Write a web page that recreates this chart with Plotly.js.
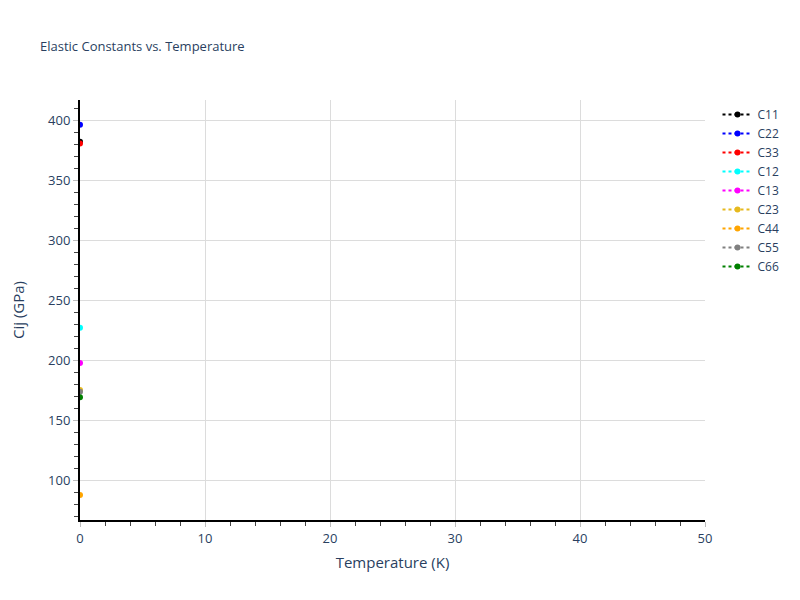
<!DOCTYPE html>
<html>
<head>
<meta charset="utf-8">
<script src="https://cdn.plot.ly/plotly-3.0.1.min.js"></script>
<style>html,body{margin:0;padding:0;background:#fff}</style>
</head>
<body>
<div id="chart" style="width:800px;height:600px"></div>
<script>
const temperature = [0];
const names = ["C11","C22","C33","C12","C13","C23","C44","C55","C66"];
const C11 = [382];
const C22 = [396];
const C33 = [380.5];
const C12 = [227];
const C13 = [197.5];
const C23 = [175];
const C44 = [87.5];
const C55 = [173.5];
const C66 = [169];
const seriesValues = [C11,C22,C33,C12,C13,C23,C44,C55,C66];
const colors = ["black","blue","red","cyan","magenta","#e6b91e","orange","gray","green"];

const traces = names.map((n,i)=>({
  x: temperature, y: seriesValues[i], name: n, type: "scatter",
  mode: "lines+markers",
  line: {color: colors[i], dash: "dot", width: 2},
  marker: {color: colors[i], size: 6}
}));

const layout = {
  width: 800, height: 600,
  paper_bgcolor: "white", plot_bgcolor: "white",
  font: {family: "Open Sans, sans-serif", color: "#2a3f5f", size: 12},
  title: {text: "Elastic Constants vs. Temperature", x: 0.05, xanchor: "left", y: 0.93, font: {size: 13}},
  margin: {l: 80, r: 95, t: 100, b: 80},
  xaxis: {
    title: {text: "Temperature (K)", font: {size: 15}, standoff: 12},
    automargin: true,
    range: [0, 50], dtick: 10,
    tickfont: {size: 13},
    showline: true, linecolor: "black", linewidth: 2,
    gridcolor: "#dcdcdc", zeroline: false,
    ticks: "outside", tickcolor: "#bbb", ticklen: 5,
    minor: {dtick: 2, ticks: "outside", ticklen: 4, tickcolor: "#444", showgrid: false}
  },
  yaxis: {
    title: {text: "Cij (GPa)", font: {size: 15}, standoff: 20},
    automargin: true,
    range: [66.7, 416.7], dtick: 50,
    tickfont: {size: 13},
    showline: true, linecolor: "black", linewidth: 2,
    gridcolor: "#dcdcdc", zeroline: false,
    ticks: "outside", tickcolor: "#bbb", ticklen: 5,
    minor: {dtick: 10, ticks: "outside", ticklen: 4, tickcolor: "#444", showgrid: false}
  },
  legend: {x: 1.02, y: 1, font: {size: 12}},
  showlegend: true
};
Plotly.newPlot("chart", traces, layout, {displayModeBar: false});
</script>
</body>
</html>
